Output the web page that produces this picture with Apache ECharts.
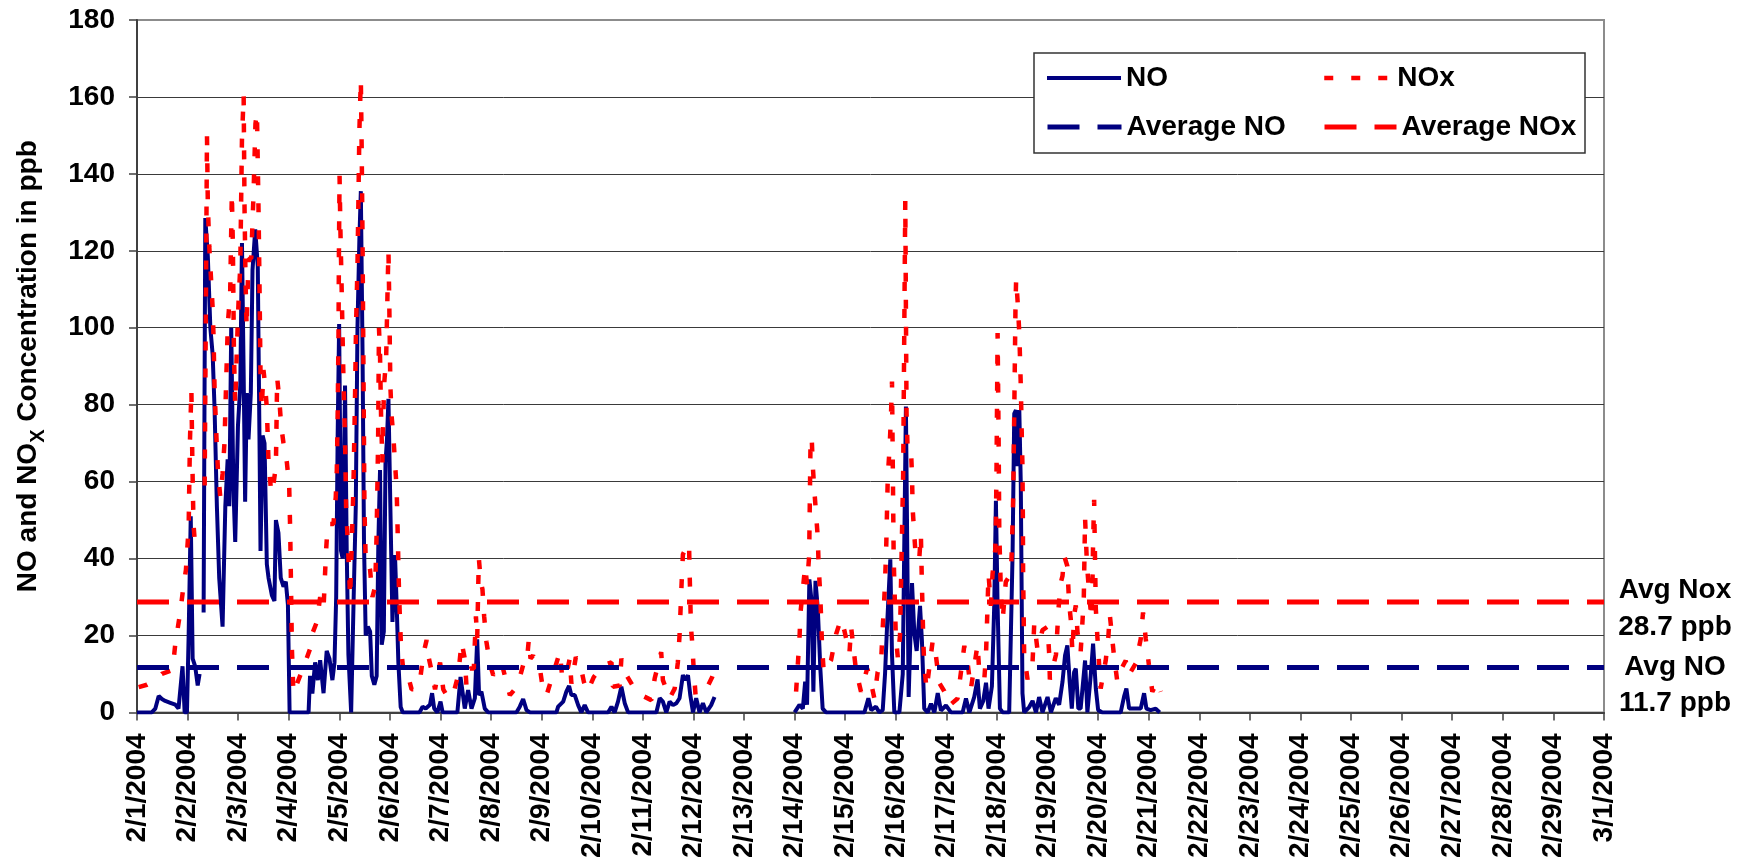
<!DOCTYPE html>
<html>
<head>
<meta charset="utf-8">
<script src="https://cdn.jsdelivr.net/npm/echarts@6/dist/echarts.min.js"></script>
<style>
html,body{margin:0;padding:0;background:#fff;}
#chart{width:1748px;height:861px;}
</style>
</head>
<body>
<div id="chart"></div>
<script>
// ---- DATA ----
// x position = hours since 2/1/2004 00:00
const tickLabels = ['2/1/2004','2/2/2004','2/3/2004','2/4/2004','2/5/2004','2/6/2004','2/7/2004','2/8/2004','2/9/2004','2/10/2004',
  '2/11/2004','2/12/2004','2/13/2004','2/14/2004','2/15/2004','2/16/2004','2/17/2004','2/18/2004','2/19/2004','2/20/2004',
  '2/21/2004','2/22/2004','2/23/2004','2/24/2004','2/25/2004','2/26/2004','2/27/2004','2/28/2004','2/29/2004','3/1/2004'];

const yTicks = [0, 20, 40, 60, 80, 100, 120, 140, 160, 180];

const seriesNames = ['NO', 'NOx', 'Average NO', 'Average NOx'];

const avgNO = 11.7;
const avgNOx = 28.7;

const noData = [
[0,0],[7,0],[8.7,1],[10.3,4.3],[11.8,3.5],[13.4,3],[15.8,2.5],[18.2,2],[19.7,1],[21.6,12],[22.6,0],[23.7,0],[24.5,20],[25.5,51],[26.4,14],[27.6,12],[28.8,7],[29.7,10],[30.5,null],
[31.6,26],[32.4,128.5],[33.6,118.6],[34.8,100],[35.9,93],[36.8,79],[37.9,53.6],[39,35],[40.6,22.3],[41.9,53.6],[43,65.8],[43.8,53.6],[44.7,100],[45.7,59],[46.6,44.3],[47.9,74.5],[49,85],[49.8,122],[50.6,88],[51.3,54.8],[52.1,83],[52.9,71],[54,83],[54.8,115],[56.1,125.6],[57.3,116],[58.1,72],[58.6,42],[59.6,72],[60.5,70],[61.6,38.5],[62.4,35],[64,30.4],[65.2,29],[65.9,50],[67.1,46.7],[68.2,35],[69.5,32.7],[70.6,34],[71.6,28],[72.4,0],
[81.4,0],[82.1,9.5],[83.2,4.9],[84.5,13],[85.8,8.4],[86.9,13.6],[88.5,5],[90,16],[91.3,14],[92.7,8.4],[93.7,13],[94.5,30],[95.2,72],[95.9,101],[96.8,42],[97.6,40],[98.7,85],[99.5,42],[100.3,15],[101.6,0],[102.8,30],[103.8,53.6],[104.6,100],[105.5,123],[106.2,135.5],[107,94],[107.7,44],[108.5,20],[109.5,22.3],[110.6,21],[111.4,9.5],[112.6,7.2],[113.7,9.5],[114.5,44],[115.3,63],[116.1,17.6],[117.1,21],[117.9,65],[118.6,71],[119.3,81.5],[120.2,53.6],[121.2,23.5],[122.4,40.9],[123.2,28],[124,13],[125.1,1.4],[126.1,0],
[134,0],[135.5,1.5],[137,1],[139,2],[140,5],[141,1],[142.5,0],[144,2.8],[145,0],[152,0],[153.5,9.2],[155.5,1],[157.1,5.8],[158.7,1],[160.3,3.7],[161.4,19],[162.3,4.5],[163.4,5.4],[165,1],[166.6,0],
[180,0],[181.6,1.5],[183.2,3.5],[184.8,0.6],[186.4,0],[199,0],[199.8,1.5],[202.2,2.8],[203.7,5.4],[205,6.9],[206.1,4.5],[207.7,4.5],[209.3,1.9],[210.8,0],[212.4,1.9],[214,0],[223.5,0],[225.1,1.5],[226.6,0],[228.2,2.8],[229.8,6.7],[231.4,2.4],[233,0],
[246.4,0],[248,3.7],[249.5,2.8],[251.1,0],[252.7,2.8],[254.3,1.9],[255.9,2.4],[257.4,3.7],[259,9.7],[260.3,8.4],[261.4,9.7],[262.5,4.5],[263.8,0],[265.3,3.7],[266.9,0],[268.5,2.4],[270.1,0],[272.4,1.9],[274,4],[293,null],
[312,0],[314.3,2],[315.9,1],[317,8],[317.9,2],[319,34.6],[320.1,28.6],[320.9,5.4],[321.9,34.2],[323,26.9],[324.2,11.4],[325.3,1],[326.9,0],[345.1,0],[347,3.7],[348.3,0.6],[350.6,1.5],[352.2,0],[353.8,0.6],[354.9,10],[355.8,21.7],[356.6,21.7],[357.4,39.8],[358.2,15],[359.3,0],
[361.7,0],[363.3,10],[364.8,79.5],[366.1,4],[367.7,33.6],[368.8,20.5],[369.9,16],[371.5,27.7],[372.4,18.6],[373.5,1],[375.1,0],[376.7,2.3],[378.3,0],[379.9,5],[381.4,0.5],[383.8,1.8],[386.2,0],[391.7,0],[393.3,3.6],[394.9,0],[397.2,4],[398.8,8.6],[399.9,1],[401.5,3],[402.8,7.7],[404,1],[405.6,6.8],[406.7,27.7],[407.5,55],[408.3,27.7],[409.4,1],[410.7,0],[413.8,0],[415.4,41],[416.2,77.7],[417,78.6],[417.8,64],[418.6,78.6],[419.3,59.5],[420.1,5],[420.9,0],
[423.3,1.4],[424.9,3],[426.5,0],[428,4],[429.6,0],[432,4],[433.6,0],[435.9,3.7],[437.5,2],[439.1,8],[440.3,14.8],[441.4,17.4],[442.5,8],[443.5,1],[444.6,10.5],[445.4,11.4],[446.6,1],[447.7,1],[449.8,13.5],[450.9,0],[452.5,9.7],[453.6,17.9],[454.9,6.2],[456,0.6],[458,0],[466.7,0],[468.3,4.1],[469.4,6.2],[470.7,1],[476.2,1],[477.8,5],[478.9,1],[480.9,0.6],[483.3,1],[485.2,0]
];

const noxData = [
[0.8,6.6],[4.7,7.2],[8.7,8.4],[11.8,10],[16.9,11],[18.2,18],[20.5,26],[22.1,33],[23.2,37],[24.5,48],[25.1,70],[25.8,84],[26.3,64],[26.8,49],[27.6,43],[28.6,42],[30.5,null],
[32.1,59],[32.7,107],[33.2,150],[33.6,132],[34.3,121],[35.2,112],[35.9,105],[36.3,98],[36.8,84],[37.3,77],[37.8,70],[38.4,63],[39.5,56],[40.6,62],[41.5,70],[42.2,84],[43.1,101],[44.2,109],[45,135],[45.5,121],[46,93],[46.6,80],[47.4,95],[48.2,107],[49,116],[49.8,149],[50.6,160.5],[51,132],[51.5,112],[52,100],[52.6,112],[53.2,118],[54.2,118],[55.3,135],[56.2,153],[56.9,156],[57.3,143],[57.7,129],[58.1,112],[58.6,88],[59.2,79],[60,89],[60.8,85],[61.6,79],[62.4,65],[63.7,57],[64.9,60],[65.9,64],[66.5,87],[67.5,81.5],[68.4,74.5],[69.5,70],[71.1,65],[72.2,59],[72.7,46.7],[73.1,31.6],[73.5,16.5],[74.2,5],
[75,5],[79.8,13],[82.1,16.5],[83.2,20.5],[85.3,23.5],[86.9,30],[88.5,27],[89.7,42],[90.5,49],[93.2,49],[94.3,56],[94.8,63],[95.2,77],[95.6,98],[95.8,119],[96.1,139.5],[96.5,125.6],[97.1,110],[97.9,88],[98.7,71],[99.2,53.6],[100,44],[100.6,37],[101.1,30],[101.9,44],[102.7,59],[103.5,84],[103.9,100],[104.6,116],[105.1,135],[105.5,151],[105.9,159],[106.2,164.5],[106.6,146.5],[107,123],[107.3,100],[107.6,77],[107.9,53.6],[108.5,39.7],[109.5,39.7],[110.6,37],[111.7,30],[113,32.7],[113.7,46.7],[114.4,71],[114.8,100],[115.3,93],[115.8,77],[116.4,65],[117.2,85],[118.2,92],[119,113],[119.3,120],[119.7,106],[120.2,85],[120.8,77],[121.6,72],[122.4,65],[123.2,58],[123.8,44],[124.3,31.6],[124.8,23.5],[125.3,16.5],[126.4,10.7],[128,10.7],[130.3,6],[132.2,6],[134.3,8.4],[135.9,15.3],[137.4,18.8],[138.5,14],[139.8,10.7],[141.4,6],[143,10.7],[143.8,13],[145.3,6],[147.7,3.7],[150.1,4.9],
[152.4,9.7],[154,18.3],[155.5,14],[156.3,7],[157.9,11.4],[159.8,11.4],[160.8,25],[161.4,19],[161.9,33],[162.2,40],[163.1,34],[163.9,32],[164.7,25],[165.8,18.3],[167.4,12.7],[169,9.7],[171.3,11.4],[172.9,13],[176.9,4.5],[179.2,6],[180.8,8],[181.9,9.7],[183.2,12.3],[184.8,12.3],[185.9,19],[186.7,14],[187.9,14.8],[189.5,12.3],[191.4,10.5],[193,4.5],[194.6,5],[197.4,10],[200.6,15.7],[201.8,8.8],[203.7,9.7],[205.3,14],[206.1,7.5],[208.2,14.4],[210.4,12.3],[212,8],[213.7,5.4],[216.7,9.2],[221.1,12.3],[225.1,13],[225.8,6.7],[229,7],[229.8,14],[230.6,12.3],[232.2,9.7],[236.9,5.4],[239.3,4.5],
[244,3.2],[245.6,8.8],[248.7,15.7],[249.5,8.4],[252.7,3.7],[255.1,6.2],[256.6,13],[257.4,20],[257.9,26.9],[258.4,33.8],[259,41.1],[260.6,42.8],[261.9,44],[262.2,36],[262.5,29.5],[262.8,22.2],[263.4,18.3],[264.1,11.4],[265,4.5],[268.5,5.4],[270.9,7],[272.9,9.2],[274,11],[293,null],
[312.7,5.4],[313.5,12.3],[314.3,19.1],[314.8,26],[317,38],[317.9,33.3],[318.9,40.7],[319.2,54.4],[319.5,68.2],[320.1,71.6],[320.6,64.3],[321.4,57.4],[322.2,51.4],[323,45.4],[323.4,38],[324.1,31.2],[324.6,24.3],[325,17.4],[325.8,10.5],[329.3,13.6],[331.7,20.4],[334,24.3],[335.6,21.3],[338,15.3],[338.8,22.2],[341.1,11],[343.5,5.4],[346.4,11.4],[347.5,9.7],[349.8,3.7],[351.4,10.5],[353,12.7],[353.6,20],[354.3,26.9],[354.9,33.8],[355.5,44],[356.2,61.3],[357,68.2],[357.7,76.8],[358.2,86],[359,40],[360,20],[361,14],[362,20],[363.5,62],[364.5,133],[365.1,77.7],[365.6,68.6],[367.2,68.6],[367.7,61.4],[368,53],[368.8,46],[369.6,39.5],[371.2,40.5],[371.9,46.4],[372.4,33],[372.7,26.8],[373,19.5],[373.5,12.3],[374.6,6],[377.5,18.6],[379.1,14.5],[380.6,7.7],[383,5.5],[385.4,1.8],[389.3,3.6],[392.5,17.3],[394.1,12.7],[395.6,6],[398.8,17.7],[399.6,10.5],[402,8.6],[402.8,15],[404,36],[405.1,27.7],[405.9,36],[407.2,42.3],[407.5,49.5],[407.8,64],[408,77.7],[408.3,98.6],[408.8,70],[409.1,46.8],[409.9,30.5],[410.7,24],[412.2,34],[414.6,36],[415.1,43],[415.7,56],[416.2,77.7],[416.5,91.8],[416.8,106],[417.1,112.7],[417.9,106],[418.6,98.6],[419.3,85],[419.8,71.4],[420.1,64],[420.3,49.5],[420.4,36],[420.6,28.6],[420.9,15],[422.5,8.6],[424.9,13.2],[425.7,23.2],[427.2,16.4],[429.6,21.4],[432,22.3],[432.8,15],[433.1,8.6],[436,15],[437.2,27],[438.3,33.8],[439.1,35.5],[439.9,40.7],[441.4,38],[442.2,28.6],[443,24.3],[443.8,15.7],[444.6,25.2],[445.4,27.8],[446.2,20.9],[447.7,15.7],[448.5,23],[449.2,30],[449.8,50.5],[450.7,38.5],[451.7,31.2],[452.8,24.3],[453.3,33],[453.6,44.1],[454.1,55.3],[454.5,40.7],[454.9,27],[455.6,20],[456.4,13.1],[457.2,6.2],[459.6,13.5],[460.9,20],[461.5,25.6],[463.5,14.8],[465.1,8],[466.7,11],[469.1,13.5],[469.9,9.7],[471.4,10.5],[473.8,12.7],[476.2,19.1],[477.3,26],[478.6,19.1],[480.1,12.3],[481.7,5.4],[484.1,8],[485.7,5.4]
];

// ---- CHART ----
const FONT = "'Liberation Sans', Arial, sans-serif";
const xMax = (tickLabels.length - 1) * 24;
const avgLine = v => [[0, v], [xMax, v]];

const baseText = { fontFamily: FONT, fontSize: 28, fontWeight: 'bold', color: '#000' };

const chart = echarts.init(document.getElementById('chart'), null, { renderer: 'canvas' });

const legendCommon = {
  orient: 'horizontal', padding: 0, itemHeight: 14, selectedMode: false,
  itemStyle: { color: 'rgba(0,0,0,0)', borderColor: 'rgba(0,0,0,0)', borderWidth: 0 },
  textStyle: Object.assign({}, baseText, { lineHeight: 30 })
};

chart.setOption({
  animation: false,
  backgroundColor: '#fff',
  grid: { left: 135, right: 144, top: 20, bottom: 143.5, show: true, borderColor: '#8c8c8c', borderWidth: 2, backgroundColor: 'transparent' },
  graphic: [{
    type: 'rect', z: 3, silent: true,
    shape: { x: 1034, y: 53, width: 551, height: 100 },
    style: { fill: '#fff', stroke: '#333', lineWidth: 1.5 }
  }],
  legend: [
    Object.assign({}, legendCommon, { data: [seriesNames[0]], left: 1045, top: 63, itemWidth: 74, lineStyle: { width: 4 } }),
    Object.assign({}, legendCommon, { data: [seriesNames[1]], left: 1322, top: 63, itemWidth: 68, lineStyle: { width: 4.5 } }),
    Object.assign({}, legendCommon, { data: [seriesNames[2]], left: 1045, top: 112, itemWidth: 74, lineStyle: { width: 5 } }),
    Object.assign({}, legendCommon, { data: [seriesNames[3]], left: 1322, top: 112, itemWidth: 72, lineStyle: { width: 5 } })
  ],
  xAxis: {
    type: 'value', min: 0, max: xMax, interval: 24,
    axisLine: { show: true, lineStyle: { color: '#404040', width: 2 } },
    axisTick: { show: true, length: 8, lineStyle: { color: '#404040', width: 1.5 } },
    splitLine: { show: false },
    axisLabel: Object.assign({}, baseText, {
      rotate: 90, margin: 21,
      formatter: v => tickLabels[Math.round(v / 24)] || ''
    })
  },
  yAxis: {
    type: 'value', min: yTicks[0], max: yTicks[yTicks.length - 1], interval: yTicks[1] - yTicks[0],
    name: 'NO and NO{s|X} Concentration in ppb',
    nameLocation: 'middle', nameGap: 89, nameRotate: 90,
    nameTextStyle: Object.assign({}, baseText, {
      lineHeight: 40,
      rich: { s: { fontFamily: FONT, fontSize: 20, fontWeight: 'bold', color: '#000', verticalAlign: 'bottom', lineHeight: 40 } }
    }),
    axisLine: { show: true, lineStyle: { color: '#404040', width: 2 } },
    axisTick: { show: true, length: 8, lineStyle: { color: '#404040', width: 1.5 } },
    splitLine: { show: true, showMaxLine: false, lineStyle: { color: '#3a3a3a', width: 1 } },
    axisLabel: Object.assign({}, baseText, { margin: 22 })
  },
  series: [
    {
      name: seriesNames[0], type: 'line', data: noData, symbol: 'none', showSymbol: false, connectNulls: false, z: 2,
      color: '#000080', lineStyle: { color: '#000080', width: 4 }
    },
    {
      name: seriesNames[1], type: 'line', data: noxData, symbol: 'none', showSymbol: false, connectNulls: false, z: 3,
      color: '#ff0000', lineStyle: { color: '#ff0000', width: 4.5, type: [9, 18] }
    },
    {
      name: seriesNames[2], type: 'line', data: avgLine(avgNO), symbol: 'none', showSymbol: false, z: 4,
      color: '#000080', lineStyle: { color: '#000080', width: 5, type: [32, 18] },
      endLabel: Object.assign({}, baseText, {
        show: true, formatter: () => 'Avg NO\n' + avgNO.toFixed(1) + ' ppb',
        lineHeight: 36, align: 'center', distance: 71, offset: [0, 18]
      })
    },
    {
      name: seriesNames[3], type: 'line', data: avgLine(avgNOx), symbol: 'none', showSymbol: false, z: 5,
      color: '#ff0000', lineStyle: { color: '#ff0000', width: 5, type: [32, 18] },
      endLabel: Object.assign({}, baseText, {
        show: true, formatter: () => 'Avg Nox\n' + avgNOx.toFixed(1) + ' ppb',
        lineHeight: 37, align: 'center', distance: 71, offset: [0, 7]
      })
    }
  ]
});
</script>
</body>
</html>
